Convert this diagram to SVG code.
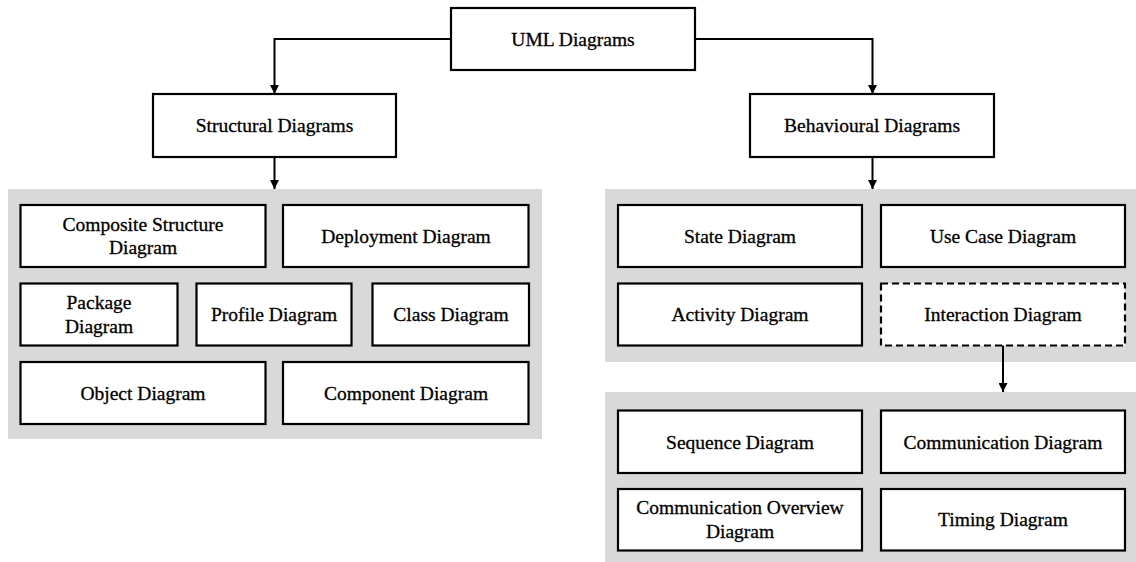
<svg xmlns="http://www.w3.org/2000/svg" width="1136" height="562" viewBox="0 0 1136 562">
<style>
.panel{fill:#d9d9d9;stroke:none}
.box{fill:#fff;stroke:#000;stroke-width:2.2}
.dash{stroke-dasharray:7 4}
.t{font-family:"Liberation Serif","Times New Roman",serif;font-size:19.5px;fill:#000;stroke:#000;stroke-width:0.3;text-anchor:middle}
.conn{fill:none;stroke:#000;stroke-width:2}
</style>
<defs>
<marker id="arr" viewBox="0 0 10 10" refX="10" refY="5" markerWidth="4.5" markerHeight="4.5" orient="auto" markerUnits="strokeWidth">
<path d="M0,0 L10,5 L0,10 z" fill="#000"/>
</marker>
</defs>
<rect class="panel" x="8" y="189" width="534" height="250"/>
<rect class="panel" x="605" y="189" width="531" height="173"/>
<rect class="panel" x="605" y="392" width="531" height="170"/>
<g id="connectors">
<path class="conn" d="M451,39 H274.5 V94" marker-end="url(#arr)"/>
<path class="conn" d="M695,39 H872.5 V94" marker-end="url(#arr)"/>
<path class="conn" d="M274.5,157 V189" marker-end="url(#arr)"/>
<path class="conn" d="M872.5,157 V189" marker-end="url(#arr)"/>
<path class="conn" d="M1003,345 V392" marker-end="url(#arr)"/>
</g>
<g id="uml"><rect class="box" x="451" y="8" width="244" height="62"/><text class="t" x="573" y="45.5">UML Diagrams</text></g>
<g id="structural"><rect class="box" x="153" y="94" width="243" height="63"/><text class="t" x="274.5" y="132">Structural Diagrams</text></g>
<g id="behavioural"><rect class="box" x="750" y="94" width="244" height="63"/><text class="t" x="872" y="132">Behavioural Diagrams</text></g>
<g id="composite"><rect class="box" x="20.5" y="205" width="245" height="62"/><text class="t" x="143" y="230.5">Composite Structure</text><text class="t" x="143" y="254">Diagram</text></g>
<g id="deployment"><rect class="box" x="283" y="205" width="245.5" height="62"/><text class="t" x="406" y="242.5">Deployment Diagram</text></g>
<g id="package"><rect class="box" x="20.5" y="283.5" width="157" height="62"/><text class="t" x="99" y="309">Package</text><text class="t" x="99" y="332.5">Diagram</text></g>
<g id="profile"><rect class="box" x="196.5" y="283.5" width="155" height="62"/><text class="t" x="274" y="321">Profile Diagram</text></g>
<g id="class"><rect class="box" x="372.5" y="283.5" width="156.5" height="62"/><text class="t" x="451" y="321">Class Diagram</text></g>
<g id="object"><rect class="box" x="20.5" y="362" width="245" height="62"/><text class="t" x="143" y="399.5">Object Diagram</text></g>
<g id="component"><rect class="box" x="283" y="362" width="245.5" height="62"/><text class="t" x="406" y="399.5">Component Diagram</text></g>
<g id="state"><rect class="box" x="618" y="205" width="244" height="62"/><text class="t" x="740" y="242.5">State Diagram</text></g>
<g id="usecase"><rect class="box" x="881" y="205" width="244" height="62"/><text class="t" x="1003" y="242.5">Use Case Diagram</text></g>
<g id="activity"><rect class="box" x="618" y="283.5" width="244" height="62"/><text class="t" x="740" y="321">Activity Diagram</text></g>
<g id="interaction"><rect class="box dash" x="881" y="283.5" width="244" height="62"/><text class="t" x="1003" y="321">Interaction Diagram</text></g>
<g id="sequence"><rect class="box" x="618" y="410.5" width="244" height="62.5"/><text class="t" x="740" y="448.5">Sequence Diagram</text></g>
<g id="communication"><rect class="box" x="881" y="410.5" width="244" height="62.5"/><text class="t" x="1003" y="448.5">Communication Diagram</text></g>
<g id="commoverview"><rect class="box" x="618" y="489" width="244" height="61.5"/><text class="t" x="740" y="514">Communication Overview</text><text class="t" x="740" y="537.5">Diagram</text></g>
<g id="timing"><rect class="box" x="881" y="489" width="244" height="61.5"/><text class="t" x="1003" y="526">Timing Diagram</text></g>
</svg>
